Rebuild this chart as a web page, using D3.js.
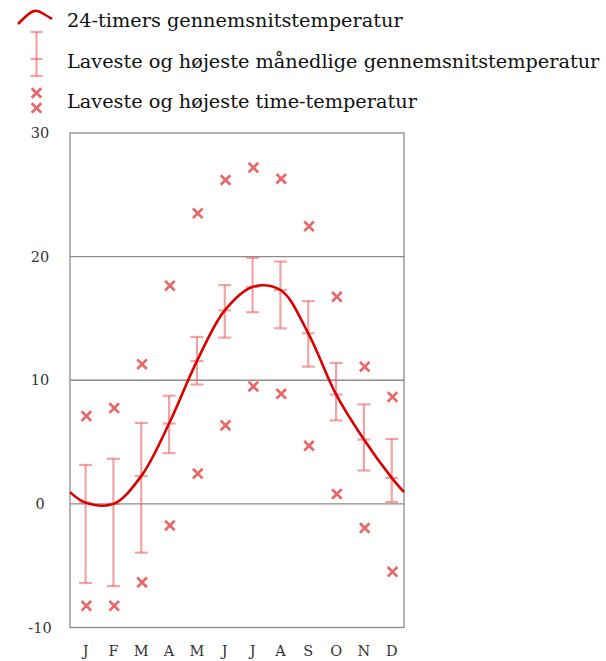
<!DOCTYPE html>
<html>
<head>
<meta charset="utf-8">
<script src="https://cdn.jsdelivr.net/npm/d3@7"></script>
<style>
  html, body { margin: 0; padding: 0; background: #fff; }
  svg { display: block; font-family: "DejaVu Serif", serif; }
</style>
</head>
<body>
<svg id="chart" width="606" height="661"></svg>
<script>
// Monthly climate normals (°C)
const months = ["J", "F", "M", "A", "M", "J", "J", "A", "S", "O", "N", "D"];
const dailyMean = [0.1, 0.0, 2.25, 6.5, 11.55, 15.65, 17.55, 17.3, 13.8, 8.85, 5.2, 2.1];
const yearBoundaryMean = 0.95;            // mean at the turn of the year
const monthlyMeanLow  = [-6.4, -6.65, -3.95, 4.1, 9.65, 13.45, 15.5, 14.2, 11.1, 6.75, 2.7, 0.15];
const monthlyMeanHigh = [3.15, 3.65, 6.55, 8.75, 13.5, 17.7, 19.9, 19.6, 16.4, 11.4, 8.05, 5.25];
const hourlyLow  = [-8.25, -8.25, -6.35, -1.75, 2.45, 6.35, 9.5, 8.9, 4.7, 0.8, -1.95, -5.5];
const hourlyHigh = [7.1, 7.75, 11.3, 17.65, 23.5, 26.2, 27.2, 26.3, 22.45, 16.75, 11.1, 8.65];
const yTicks = [-10, 0, 10, 20, 30];
const gridValues = [0, 10, 20];
const legendLabels = [
  "24-timers gennemsnitstemperatur",
  "Laveste og højeste månedlige gennemsnitstemperatur",
  "Laveste og højeste time-temperatur"
];

const lineColor = "#d90000";
const barColor = "rgba(232, 90, 90, 0.55)";
const crossColor = "#e86868";
const frameColor = "#8c8c8c";

const svg = d3.select("#chart");
const plot = { left: 70, right: 404, top: 133, bottom: 627.5 };

// months sit slightly right of the centre of each twelfth of the year
const monthPos = i => i + 0.56;
const x = d3.scaleLinear().domain([0, 12]).range([plot.left, plot.right]);
const y = d3.scaleLinear().domain([-10, 30]).range([plot.bottom, plot.top]);

// grid lines
svg.append("g").selectAll("line").data(gridValues).join("line")
  .attr("x1", plot.left).attr("x2", plot.right)
  .attr("y1", d => y(d)).attr("y2", d => y(d))
  .attr("stroke", frameColor).attr("stroke-width", 1.3);

// frame
svg.append("rect")
  .attr("x", plot.left).attr("y", plot.top)
  .attr("width", plot.right - plot.left).attr("height", plot.bottom - plot.top)
  .attr("fill", "none").attr("stroke", frameColor).attr("stroke-width", 1.3);

// y tick labels
svg.append("g").selectAll("text").data(yTicks).join("text")
  .attr("x", 40).attr("y", d => y(d))
  .attr("dy", "0.36em")
  .attr("text-anchor", "middle")
  .attr("font-size", 14.5).attr("fill", "#333")
  .text(d => d < 0 ? "-" + Math.abs(d) : d);

// month labels
svg.append("g").selectAll("text").data(months).join("text")
  .attr("x", (d, i) => x(monthPos(i))).attr("y", 656)
  .attr("text-anchor", "middle")
  .attr("font-size", 14.5).attr("fill", "#333")
  .text(d => d);

// error bars: monthly mean range with mean tick
const capW = 6.5;
const bars = svg.append("g").attr("stroke", barColor).attr("stroke-width", 2.2).attr("fill", "none");
months.forEach((m, i) => {
  const cx = x(monthPos(i));
  bars.append("line").attr("x1", cx).attr("x2", cx)
    .attr("y1", y(monthlyMeanLow[i])).attr("y2", y(monthlyMeanHigh[i]));
  [monthlyMeanLow[i], monthlyMeanHigh[i], dailyMean[i]].forEach(v => {
    bars.append("line").attr("x1", cx - capW).attr("x2", cx + capW)
      .attr("y1", y(v)).attr("y2", y(v));
  });
});

// crosses for hourly extremes
const crossPath = (cx, cy, r) => `M${cx - r},${cy - r}L${cx + r},${cy + r}M${cx - r},${cy + r}L${cx + r},${cy - r}`;
const crossData = months.flatMap((m, i) => [
  { i, v: hourlyLow[i] }, { i, v: hourlyHigh[i] }
]);
svg.append("g").selectAll("path").data(crossData).join("path")
  .attr("d", d => crossPath(x(monthPos(d.i)) + 0.8, y(d.v), 4.8))
  .attr("stroke", crossColor).attr("stroke-width", 2.7).attr("fill", "none");

// smoothed daily mean curve through the monthly means
const curvePts = [[0, yearBoundaryMean]]
  .concat(dailyMean.map((v, i) => [monthPos(i), v]))
  .concat([[12, yearBoundaryMean]]);
const line = d3.line()
  .x(d => x(d[0])).y(d => y(d[1]))
  .curve(d3.curveCatmullRom.alpha(0.5));
svg.append("path").datum(curvePts)
  .attr("d", line)
  .attr("fill", "none").attr("stroke", lineColor).attr("stroke-width", 2.6)
  .attr("stroke-linejoin", "round");

// legend
const legend = svg.append("g");
legend.append("path")
  .attr("d", d3.line().curve(d3.curveBasis)([[18, 24], [27, 15], [35, 9], [44, 14], [52, 19]]))
  .attr("fill", "none").attr("stroke", lineColor).attr("stroke-width", 2.6);
const lx = 36.5;
const lg = legend.append("g").attr("stroke", barColor).attr("stroke-width", 2.2);
lg.append("line").attr("x1", lx).attr("x2", lx).attr("y1", 32).attr("y2", 76);
[32, 59, 76].forEach(v => lg.append("line").attr("x1", lx - 6).attr("x2", lx + 6).attr("y1", v).attr("y2", v));
[93, 108].forEach(v => legend.append("path").attr("d", crossPath(lx, v, 4.8))
  .attr("stroke", crossColor).attr("stroke-width", 2.7).attr("fill", "none"));
legend.selectAll("text").data(legendLabels).join("text")
  .attr("x", 67).attr("y", (d, i) => [27, 68, 108][i])
  .attr("font-size", 19.3).attr("fill", "#111")
  .text(d => d);
</script>
</body>
</html>
